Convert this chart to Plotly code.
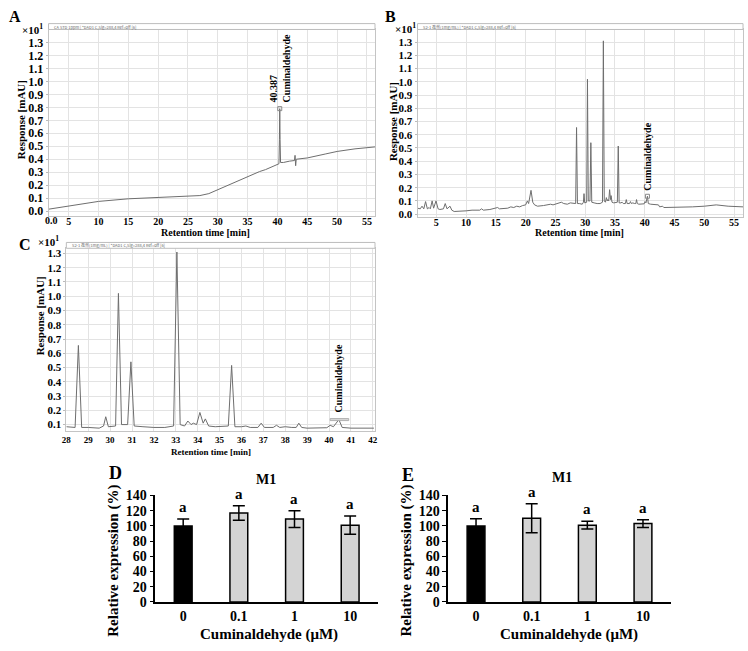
import plotly.graph_objects as go

W, H = 748, 651
SERIF = "Liberation Serif"

# ---------------- Panel A: cuminaldehyde standard chromatogram ----------------
a_time = [1.63, 5, 10, 15, 20, 25, 27, 28.5, 30, 32, 35, 37, 38, 39.5, 40.25,
          40.33, 40.387, 40.44, 40.52, 41.0, 42.0, 42.85, 42.95, 43.05, 43.15,
          45, 48, 50, 53, 56.35]
a_resp = [0.015, 0.04, 0.075, 0.095, 0.105, 0.115, 0.12, 0.135, 0.165, 0.21, 0.27,
          0.305, 0.32, 0.35, 0.365, 0.55, 0.79, 0.55, 0.375, 0.375, 0.385, 0.39,
          0.43, 0.35, 0.40, 0.41, 0.44, 0.46, 0.48, 0.495]
a_peak_time = [40.387]
a_peak_resp = [0.79]

# ---------------- Sample chromatogram (C = zoom of B, 28-42 min) ----------------
c_time = [28.0, 28.4, 28.55, 28.7, 29.0, 29.5, 29.7, 29.8, 29.92, 30.1, 30.25, 30.38,
          30.52, 30.8, 30.95, 31.1, 31.3, 31.5, 32.0, 32.5, 32.9, 33.05, 33.2, 33.4,
          33.55, 33.7, 33.8, 33.95, 34.1, 34.25, 34.35, 34.5, 34.8, 35.0, 35.4, 35.55,
          35.7, 36.0, 36.2, 36.4, 36.75, 36.9, 37.05, 37.45, 37.6, 37.75, 38.0, 38.3,
          38.5, 38.62, 38.75, 39.0, 39.5, 39.9, 40.05, 40.2, 40.45, 40.6, 41.0, 41.5,
          42.05]
c_resp = [0.085, 0.08, 0.655, 0.08, 0.08, 0.075, 0.09, 0.155, 0.085, 0.085, 0.09, 1.02,
          0.1, 0.1, 0.54, 0.09, 0.09, 0.085, 0.08, 0.08, 0.09, 1.31, 0.1, 0.09,
          0.125, 0.1, 0.11, 0.1, 0.185, 0.11, 0.14, 0.09, 0.085, 0.085, 0.09, 0.515,
          0.085, 0.085, 0.09, 0.08, 0.08, 0.11, 0.08, 0.08, 0.095, 0.08, 0.085, 0.08,
          0.08, 0.11, 0.08, 0.075, 0.075, 0.078, 0.095, 0.085, 0.135, 0.08, 0.075, 0.075,
          0.075]
b_pre_time = [1.85, 2.3, 2.6, 2.9, 3.2, 3.5, 3.8, 4.0, 4.3, 4.55, 4.95, 5.3, 5.6, 6.2,
              6.5, 6.8, 7.3, 7.6, 8.0, 9.0, 10.0, 11.0, 12.3, 12.6, 12.9, 14.0, 15.3,
              15.6, 17.0, 17.5, 18.0, 18.5, 19.0, 19.5, 20.0, 20.3, 20.5, 20.9, 21.2,
              21.5, 22.0, 23.0, 23.5, 24.2, 24.6, 25.3, 26.0, 26.4, 27.0, 27.5]
b_pre_resp = [0.045, 0.04, 0.06, 0.04, 0.095, 0.04, 0.05, 0.04, 0.1, 0.045, 0.1, 0.04,
              0.035, 0.04, 0.08, 0.04, 0.06, 0.03, 0.02, 0.02, 0.025, 0.03, 0.03, 0.04,
              0.03, 0.035, 0.05, 0.04, 0.045, 0.055, 0.05, 0.06, 0.055, 0.065, 0.07, 0.1,
              0.08, 0.18, 0.09, 0.07, 0.06, 0.065, 0.07, 0.075, 0.07, 0.08, 0.09, 0.08,
              0.075, 0.085]
b_post_time = [42.3, 42.5, 43.0, 43.2, 45.0, 48.0, 50.0, 52.0, 54.0, 56.5]
b_post_resp = [0.07, 0.055, 0.06, 0.05, 0.05, 0.055, 0.06, 0.07, 0.06, 0.055]
b_time = b_pre_time + c_time + b_post_time
b_resp = b_pre_resp + c_resp + b_post_resp
cum_time = [40.45]
cum_resp = [0.135]

# ---------------- Panels D / E: relative expression ----------------
conc_labels = ["0", "0.1", "1", "10"]
d_mean = [100, 117, 109, 101]
d_err = [9, 9.5, 11, 12]
e_mean = [100, 110, 101, 103]
e_err = [9.5, 19, 5, 5]
sig_letters = ["a", "a", "a", "a"]
bar_colors = ["#000000", "#d4d4d4", "#d4d4d4", "#d4d4d4"]

a_xticks = [5, 10, 15, 20, 25, 30, 35, 40, 45, 50, 55]
c_xticks = list(range(28, 43))
chrom_yticks = [0.0, 0.1, 0.2, 0.3, 0.4, 0.5, 0.6, 0.7, 0.8, 0.9, 1.0, 1.1, 1.2, 1.3]
expr_yticks = [0, 20, 40, 60, 80, 100, 120, 140]


def px(x):
    return x / W


def py(y):
    return 1 - y / H


fig = go.Figure()
LINE = dict(color="#6e6e6e", width=1)

fig.add_trace(go.Scatter(x=a_time, y=a_resp, mode="lines", line=LINE, xaxis="x", yaxis="y"))
fig.add_trace(go.Scatter(x=a_peak_time, y=a_peak_resp, mode="markers",
                         marker=dict(symbol="square-open", size=4, color="#888888"),
                         xaxis="x", yaxis="y"))
fig.add_trace(go.Scatter(x=b_time, y=b_resp, mode="lines", line=LINE, xaxis="x2", yaxis="y2"))
fig.add_trace(go.Scatter(x=cum_time, y=cum_resp, mode="markers",
                         marker=dict(symbol="square-open", size=4, color="#888888"),
                         xaxis="x2", yaxis="y2"))
fig.add_trace(go.Scatter(x=c_time, y=c_resp, mode="lines", line=LINE, xaxis="x3", yaxis="y3"))

for xa, ya, mean, err in (("x4", "y4", d_mean, d_err), ("x5", "y5", e_mean, e_err)):
    fig.add_trace(go.Bar(x=conc_labels, y=mean, width=0.32,
                         marker=dict(color=bar_colors, line=dict(color="black", width=1.5)),
                         error_y=dict(type="data", array=err, color="black", thickness=1.5, width=6),
                         xaxis=xa, yaxis=ya))


def chrom_x(anchor, domain, rng, tickvals, size, standoff):
    return dict(anchor=anchor, domain=domain, range=rng, tickvals=tickvals, showgrid=True,
                gridcolor="#e3e3e3", gridwidth=1, showline=True, mirror=True,
                linecolor="#c4c4c4", linewidth=1, zeroline=False, ticks="",
                ticklabelstandoff=standoff,
                tickfont=dict(family=SERIF, size=size, color="black", weight="bold"))


def chrom_y(anchor, domain, rng, size):
    return dict(anchor=anchor, domain=domain, range=rng, tickvals=chrom_yticks,
                tickformat=".1f",
                showgrid=True, gridcolor="#e3e3e3", gridwidth=1, showline=True,
                mirror=True, linecolor="#c4c4c4", linewidth=1, zeroline=False,
                ticks="outside", ticklen=2, tickcolor="#bbbbbb",
                tickfont=dict(family=SERIF, size=size, color="black", weight="bold"))


def bar_x(anchor, domain):
    return dict(anchor=anchor, domain=domain, type="category", range=[-0.5, 3.5],
                showline=True, linecolor="black", linewidth=1.5, ticks="", showgrid=False,
                zeroline=False,
                tickfont=dict(family=SERIF, size=14, color="black", weight="bold"))


def bar_y(anchor, domain):
    return dict(anchor=anchor, domain=domain, range=[0, 140], tickvals=expr_yticks,
                showline=True, linecolor="black", linewidth=1.5, ticks="outside",
                ticklen=4, tickcolor="black", showgrid=False, zeroline=False,
                tickfont=dict(family=SERIF, size=14, color="black", weight="bold"))


fig.update_layout(
    width=W, height=H, margin=dict(l=0, r=0, t=0, b=0),
    paper_bgcolor="white", plot_bgcolor="white", showlegend=False,
    font=dict(family=SERIF, color="black"),
    xaxis=chrom_x("y", [px(44), px(374)], [1.63, 56.35], a_xticks, 10, -4),
    yaxis=chrom_y("x", [py(214), py(23)], [-0.038, 1.40], 12),
    xaxis2=chrom_x("y2", [px(417), px(746)], [1.85, 56.5], a_xticks, 10, -4),
    yaxis2=chrom_y("x2", [py(215), py(23)], [-0.022, 1.396], 11),
    xaxis3=chrom_x("y3", [px(62), px(374)], [28, 42.1], c_xticks, 9, 0),
    yaxis3=chrom_y("x3", [py(434), py(247)], [0.055, 1.336], 11),
    xaxis4=bar_x("y4", [px(152), px(377)]),
    yaxis4=bar_y("x4", [py(609), py(500)]),
    xaxis5=bar_x("y5", [px(448), px(673)]),
    yaxis5=bar_y("x5", [py(609), py(500)]),
)

shapes = []
# instrument header boxes above chromatograms
for x0, x1, y0, y1 in ((44, 374, 17, 23), (417, 746, 17, 23), (62, 374, 241, 247)):
    shapes.append(dict(type="rect", xref="paper", yref="paper", x0=px(x0), x1=px(x1),
                       y0=py(y1), y1=py(y0), line=dict(color="#bdbdbd", width=1),
                       fillcolor="white"))
# integration bracket in C
shapes.append(dict(type="rect", xref="x3", yref="y3", x0=40.05, x1=40.9, y0=0.128, y1=0.142,
                   line=dict(color="#b0b0b0", width=1), fillcolor="#d8d8d8"))
fig.update_layout(shapes=shapes)

ann = []


def note(text, x, y, size, angle=0, xanchor="center", yanchor="middle", color="black",
         family=SERIF, bold=True):
    t = "<b>" + text + "</b>" if bold else text
    ann.append(dict(text=t, x=px(x), y=py(y), xref="paper", yref="paper", showarrow=False,
                    textangle=angle, xanchor=xanchor, yanchor=yanchor,
                    font=dict(family=family, size=size, color=color)))


# panel letters
note("A", 10, 10, 16)
note("B", 390, 10, 16)
note("C", 20, 243, 16)
note("D", 112, 477, 18)
note("E", 407, 479, 18)

# x10^1 multipliers
note("×10<sup>1</sup>", 28, 23, 11)
note("×10<sup>1</sup>", 405, 22, 11)
note("×10<sup>1</sup>", 44, 240, 11)

# header texts
hdr_font = "Noto Sans CJK SC"
note("CA STD 1ppm | *DAD1 C,Sig=288,4 Ref=off [6]", 48, 20, 4, xanchor="left",
     color="#666666", family=hdr_font, bold=False)
note("S2-1 孜然(1mg/mL) | *DAD1 C,Sig=288,4 Ref=off [6]", 421, 20, 4, xanchor="left",
     color="#666666", family=hdr_font, bold=False)
note("S2-1 孜然(1mg/mL) | *DAD1 C,Sig=288,4 Ref=off [6]", 66, 244, 4, xanchor="left",
     color="#666666", family=hdr_font, bold=False)

# "0.0" x label on A
note("0.0", 47, 219, 10)

# axis titles chromatograms
note("Response [mAU]", 17, 115, 11, angle=-90)
note("Response [mAU]", 393, 117, 11, angle=-90)
note("Response [mAU]", 35, 316, 11, angle=-90)
note("Retention time [min]", 203, 231, 10)
note("Retention time [min]", 581, 231, 10)
note("Retention time [min]", 208, 455, 9)

# peak labels
ann.append(dict(text="<b>40.387<br>Cuminaldehyde</b>", x=a_peak_time[0], y=a_peak_resp[0],
                xref="x", yref="y", showarrow=False, textangle=-90, align="left",
                xanchor="center", yanchor="bottom", yshift=4,
                font=dict(family=SERIF, size=10, color="black")))
ann.append(dict(text="<b>Cuminaldehyde</b>", x=cum_time[0], y=cum_resp[0],
                xref="x2", yref="y2", showarrow=False, textangle=-90,
                xanchor="center", yanchor="bottom", yshift=4,
                font=dict(family=SERIF, size=10, color="black")))
ann.append(dict(text="<b>Cuminaldehyde</b>", x=cum_time[0], y=cum_resp[0],
                xref="x3", yref="y3", showarrow=False, textangle=-90,
                xanchor="center", yanchor="bottom", yshift=5,
                font=dict(family=SERIF, size=10, color="black")))

# bar panels text
note("M1", 264, 484, 14)
note("M1", 563, 482, 14)
note("Relative expression (%)", 110, 567, 15, angle=-90)
note("Relative expression (%)", 406, 567, 15, angle=-90)
note("Cuminaldehyde (μM)", 267, 642, 15)
note("Cuminaldehyde (μM)", 570, 642, 15)

for xa, ya, mean, err in (("x4", "y4", d_mean, d_err), ("x5", "y5", e_mean, e_err)):
    for i, (m, e, s) in enumerate(zip(mean, err, sig_letters)):
        ann.append(dict(text="<b>" + s + "</b>", x=i, y=m + e, xref=xa, yref=ya,
                        showarrow=False, yanchor="bottom", yshift=2,
                        font=dict(family=SERIF, size=15, color="black")))

fig.update_layout(annotations=ann)
fig.write_html("out.html")
